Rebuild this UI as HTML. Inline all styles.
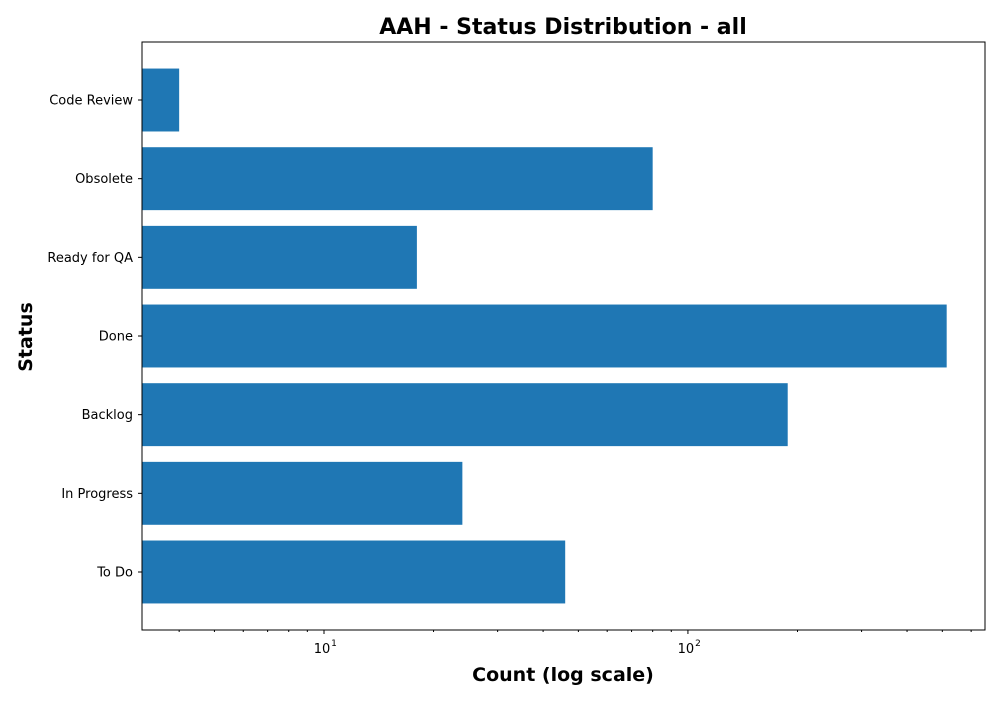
<!DOCTYPE html>
<html><head><meta charset="utf-8"><style>
body{margin:0;background:#fff;font-family:"Liberation Sans","DejaVu Sans",sans-serif}
svg text{font-family:"DejaVu Sans","Liberation Sans",sans-serif}
</style></head><body>
<svg id="chart" width="1000" height="700">
<text x="563" y="34" text-anchor="middle" font-size="22" font-weight="bold">AAH - Status Distribution - all</text>
<text x="563" y="681" text-anchor="middle" font-size="19" font-weight="bold">Count (log scale)</text>
<text transform="translate(32,337) rotate(-90)" text-anchor="middle" font-size="19" font-weight="bold">Status</text>
<g id="bars"></g><g id="axes"></g>
<rect x="142" y="42" width="843" height="588" fill="none" stroke="#000" stroke-width="1"/>
</svg>
<script>
const categories=["To Do","In Progress","Backlog","Done","Ready for QA","Obsolete","Code Review"];
const counts=[46,24,188,514,18,80,4];
const majorTicks=[10,100];
const majorLabels=["1","2"];
const minorTicks=[4,5,6,7,8,9,20,30,40,50,60,70,80,90,200,300,400,500,600];
const X0=142,X1=985,Y0=42,Y1=630,DMIN=3.162,DMAX=655;
const xs=v=>X0+(Math.log10(v)-Math.log10(DMIN))/(Math.log10(DMAX)-Math.log10(DMIN))*(X1-X0);
const n=categories.length, step=(Y1-Y0)/(n-1+1.475);
const yc=i=>Y1-step*0.7375-i*step;
const NS="http://www.w3.org/2000/svg";
const bars=document.getElementById('bars'),axes=document.getElementById('axes');
function mk(t,a,p){const e=document.createElementNS(NS,t);for(const k in a)e.setAttribute(k,a[k]);p.appendChild(e);return e;}
categories.forEach((c,i)=>{
 const h=step*0.8;
 const r=mk('rect',{x:X0,y:yc(i)-h/2,width:xs(counts[i])-X0,height:h,fill:'#1f77b4'},bars);
 
 
 mk('line',{x1:X0,x2:X0-4,y1:yc(i),y2:yc(i),stroke:'#000'},axes);
 const t=mk('text',{x:X0-9,y:yc(i)+4.5,'text-anchor':'end','font-size':13},axes);
 t.textContent=c;
 
 
});
majorTicks.forEach((v,i)=>{
 const x=xs(v);
 mk('line',{x1:x,x2:x,y1:Y1,y2:Y1+4,stroke:'#000'},axes);
 const t=mk('text',{x:x-2,y:Y1+23,'text-anchor':'middle','font-size':13},axes);
 t.textContent='10';
 
 
 const s=mk('text',{x:x+10,y:Y1+16,'text-anchor':'middle','font-size':9},axes);
 s.textContent=majorLabels[i];
});
minorTicks.forEach(v=>{const x=xs(v);mk('line',{x1:x,x2:x,y1:Y1,y2:Y1+2,stroke:'#000'},axes);});
</script>
</body></html>
